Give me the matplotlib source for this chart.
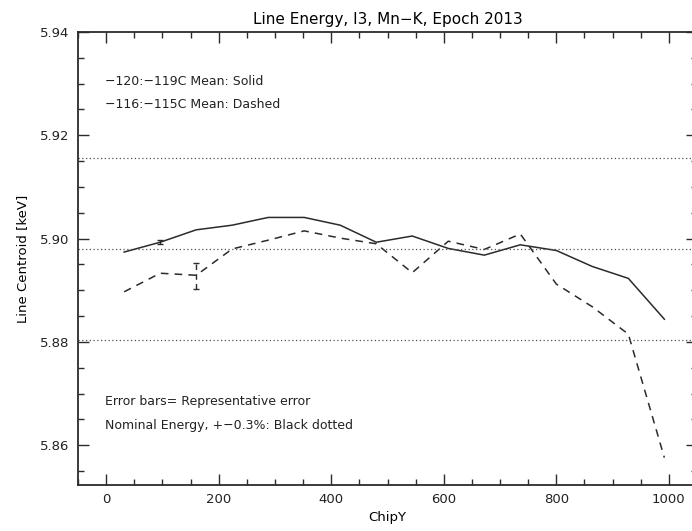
import numpy as np
import matplotlib
matplotlib.use("Agg")
import matplotlib.pyplot as plt
from matplotlib.ticker import MultipleLocator

# ChipY bin centres
chipy = [32, 96, 160, 224, 288, 352, 416, 480, 544, 608, 672, 736, 800, 864, 928, 992]

# -120:-119C mean (solid)
cold = [5.8974, 5.8993, 5.9017, 5.9026, 5.9041, 5.9041, 5.9026, 5.8993,
        5.9005, 5.8981, 5.8968, 5.8988, 5.8977, 5.8946, 5.8923, 5.8844]

# -116:-115C mean (dashed)
warm = [5.8897, 5.8933, 5.8929, 5.8980, 5.8997, 5.9015, 5.9001, 5.8990,
        5.8934, 5.8995, 5.8979, 5.9009, 5.8912, 5.8868, 5.8815, 5.8576]

# representative error bars
err_x = [96, 160]
err_y = [5.8993, 5.8928]
err_size = [0.0004, 0.0025]

nominal = 5.898
tolerance = 0.003

fig = plt.figure(figsize=(6.92, 5.31), dpi=100)
ax = fig.add_axes([78/692, 46/531, 619/692, 453/531])

col = "#2b2b2b"
ax.plot(chipy, cold, color=col, lw=1.1)
ax.plot(chipy, warm, color=col, lw=1.1, ls=(0, (5, 4)))
ax.errorbar(err_x[:1], err_y[:1], yerr=err_size[:1], fmt="none", ecolor=col,
            elinewidth=1.0, capsize=2.5)
eb = ax.errorbar(err_x[1:], err_y[1:], yerr=err_size[1:], fmt="none", ecolor=col,
                 elinewidth=1.0, capsize=2.5)
eb[2][0].set_linestyle((0, (4, 3)))

for f in (1 + tolerance, 1.0, 1 - tolerance):
    ax.axhline(nominal * f, color="#555555", lw=0.9, ls=(0, (1, 2)))

ax.set_xlim(-50, 1050)
ax.set_ylim(5.8523, 5.94)
ax.xaxis.set_major_locator(MultipleLocator(200))
ax.xaxis.set_minor_locator(MultipleLocator(50))
ax.yaxis.set_major_locator(MultipleLocator(0.02))
ax.yaxis.set_minor_locator(MultipleLocator(0.005))
ax.yaxis.set_major_formatter(plt.FormatStrFormatter("%.2f"))
ax.tick_params(which="both", direction="in", top=True, right=True,
               color=col, width=1.0, labelsize=9.5, labelcolor="#222222")
ax.tick_params(which="major", length=8, pad=6)
ax.tick_params(which="minor", length=4)
for s in ax.spines.values():
    s.set_linewidth(1.3)
    s.set_color(col)

ax.set_xlabel("ChipY", fontsize=9.5, labelpad=3)
ax.set_ylabel("Line Centroid [keV]", fontsize=9.5, labelpad=8)
ax.set_title("Line Energy, I3, Mn\u2212K, Epoch 2013", fontsize=11, pad=6)

kw = dict(fontsize=9, color="#222222", va="center")
ax.text(-2, 5.9305, "\u2212120:\u2212119C Mean: Solid", **kw)
ax.text(-2, 5.9260, "\u2212116:\u2212115C Mean: Dashed", **kw)
ax.text(-2, 5.8685, "Error bars= Representative error", **kw)
ax.text(-2, 5.8638, "Nominal Energy, +\u22120.3%: Black dotted", **kw)

fig.savefig("out.png", dpi=100)
